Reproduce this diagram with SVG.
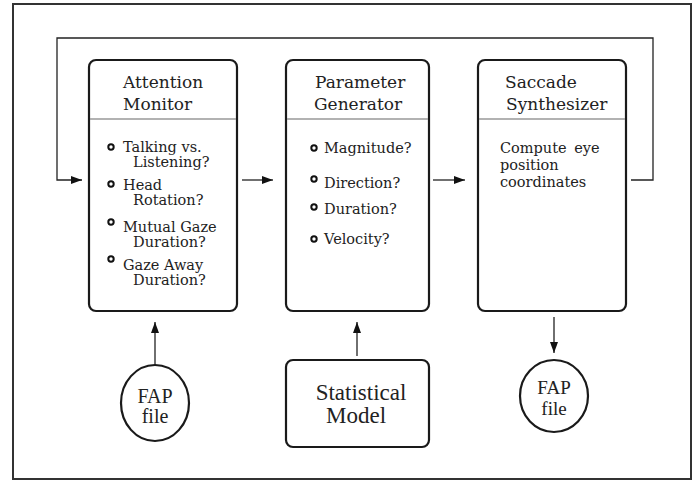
<svg xmlns="http://www.w3.org/2000/svg" width="700" height="483" viewBox="0 0 700 483">
<defs>
<marker id="ah" viewBox="0 0 11 8" refX="11" refY="4" markerWidth="11" markerHeight="8" markerUnits="userSpaceOnUse" orient="auto">
<path d="M0,0 L11,4 L0,8 z" fill="#111"/>
</marker>
<style>
.frame{fill:none;stroke:#333;stroke-width:2}
.box{fill:#fff;stroke:#1a1a1a;stroke-width:2.2}
.div{stroke:#999;stroke-width:1.5}
.conn{fill:none;stroke:#222;stroke-width:1.3}
.title{font-family:"DejaVu Serif",serif;font-size:17px;fill:#222}
.item{font-family:"DejaVu Serif",serif;font-size:14.5px;fill:#222}
.big{font-family:"Liberation Serif",serif;font-size:23px;fill:#222;text-anchor:middle}
.fap{font-family:"Liberation Serif",serif;font-size:20px;fill:#222;text-anchor:middle}
.bul{fill:#fff;stroke:#111;stroke-width:2}
</style>
</defs>
<rect width="700" height="483" fill="#fff"/>
<rect class="frame" x="13" y="4" width="678" height="475"/>

<g id="connectors">
<path class="conn" d="M631,180 H653 V38 H57 V180 H82" marker-end="url(#ah)"/>
<line class="conn" x1="242" y1="180" x2="273" y2="180" marker-end="url(#ah)"/>
<line class="conn" x1="433" y1="180" x2="465" y2="180" marker-end="url(#ah)"/>
<line class="conn" x1="155" y1="365" x2="155" y2="322" marker-end="url(#ah)"/>
<line class="conn" x1="357" y1="356" x2="357" y2="322" marker-end="url(#ah)"/>
<line class="conn" x1="554" y1="317" x2="554" y2="353" marker-end="url(#ah)"/>
</g>

<g id="attention-monitor">
<rect class="box" x="89" y="60" width="148" height="251" rx="7"/>
<line class="div" x1="90" y1="119" x2="236" y2="119"/>
<text class="title" x="123" y="88">Attention</text>
<text class="title" x="123" y="110">Monitor</text>
<circle class="bul" cx="111" cy="147" r="2.7"/>
<text class="item" x="123" y="152">Talking vs.</text>
<text class="item" x="133" y="167">Listening?</text>
<circle class="bul" cx="111" cy="184" r="2.7"/>
<text class="item" x="123" y="190">Head</text>
<text class="item" x="133" y="205">Rotation?</text>
<circle class="bul" cx="111" cy="222" r="2.7"/>
<text class="item" x="123" y="232">Mutual Gaze</text>
<text class="item" x="133" y="247">Duration?</text>
<circle class="bul" cx="111" cy="259" r="2.7"/>
<text class="item" x="123" y="270">Gaze Away</text>
<text class="item" x="133" y="285">Duration?</text>
</g>

<g id="parameter-generator">
<rect class="box" x="286" y="60" width="143" height="251" rx="7"/>
<line class="div" x1="287" y1="119" x2="428" y2="119"/>
<text class="title" x="315" y="88">Parameter</text>
<text class="title" x="314" y="110">Generator</text>
<circle class="bul" cx="314" cy="148" r="2.7"/>
<text class="item" x="324" y="153">Magnitude?</text>
<circle class="bul" cx="314" cy="179" r="2.7"/>
<text class="item" x="324" y="188">Direction?</text>
<circle class="bul" cx="314" cy="207" r="2.7"/>
<text class="item" x="324" y="214">Duration?</text>
<circle class="bul" cx="314" cy="239" r="2.7"/>
<text class="item" x="324" y="244">Velocity?</text>
</g>

<g id="saccade-synthesizer">
<rect class="box" x="478" y="60" width="148" height="251" rx="7"/>
<line class="div" x1="479" y1="119" x2="625" y2="119"/>
<text class="title" x="505" y="88">Saccade</text>
<text class="title" x="506" y="110">Synthesizer</text>
<text class="item" x="500" y="153" word-spacing="3">Compute eye</text>
<text class="item" x="500" y="170">position</text>
<text class="item" x="500" y="187">coordinates</text>
</g>

<g id="fap-in">
<ellipse class="box" cx="155" cy="403" rx="34" ry="38"/>
<text class="fap" x="155" y="403">FAP</text>
<text class="fap" x="155" y="423">file</text>
</g>

<g id="statistical-model">
<rect class="box" x="286" y="360" width="143" height="87" rx="7"/>
<text class="big" x="361" y="400">Statistical</text>
<text class="big" x="356" y="423">Model</text>
</g>

<g id="fap-out">
<ellipse class="box" cx="554" cy="396" rx="34" ry="36"/>
<text class="fap" x="554" y="394" style="font-size:19px">FAP</text>
<text class="fap" x="554" y="415" style="font-size:19px">file</text>
</g>
</svg>
